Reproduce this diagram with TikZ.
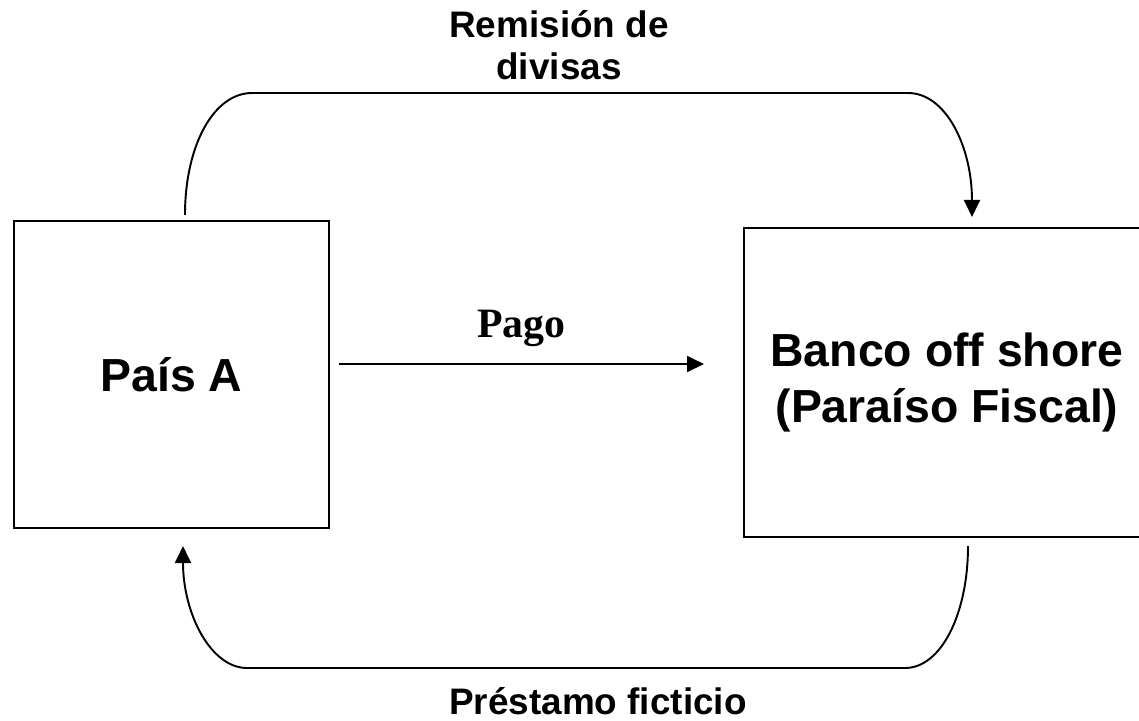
\documentclass[tikz,border=0pt]{standalone}
\usepackage{fontspec}
\setmainfont{Liberation Sans}
\newfontfamily\serifbold{Liberation Serif}
\usetikzlibrary{positioning,arrows.meta}

\begin{document}
\begin{tikzpicture}[x=0.02cm,y=-0.02cm]

              % Definitions
              \tikzstyle{Pais} = [rectangle, minimum width=6.3cm, minimum height=6.14cm, text centered, align=center, draw=black, line width=1.2pt, font=\bfseries\fontsize{26.4}{32.3}\selectfont]
              \tikzstyle{Flujo} = [align=center, inner sep=0pt, font=\bfseries\fontsize{21}{23.8}\selectfont]
              \tikzstyle{arrow} = [line width=1.1pt,-{Triangle[length=0.34cm,width=0.32cm]}]

              \useasboundingbox (0,0) rectangle (1139,720);
              \clip (0,0) rectangle (1139,720);

              \node (PaisA) [Pais] at (171.5,374.5) {País A};
              \node (Banco) [Pais, minimum width=8.12cm, minimum height=6.18cm] at (947,382.5) {Banco off shore\\(Paraíso Fiscal)};

              \coordinate (PagoFin) at ([xshift=-0.78cm,yshift=0.37cm]Banco.west);
              \coordinate (RemIzq) at (252,93);
              \coordinate (RemDer) at (908,93);
              \coordinate (PresDer) at (905,668);
              \coordinate (PresIzq) at (247,668);

              \draw [arrow] ([xshift=0.18cm,yshift=0.21cm]PaisA.east) -- node[above=0.33cm, inner sep=0pt, font=\serifbold\bfseries\fontsize{23.8}{28}\selectfont] (Pago) {Pago} (PagoFin);
              \draw [arrow] ([xshift=0.27cm,yshift=0.1cm]PaisA.north) .. controls +(0,-70) and +(-38,0) .. (RemIzq) -- (RemDer) .. controls +(38,0) and +(0,-70) .. ([xshift=0.5cm,yshift=0.2cm]Banco.north);
              \draw [arrow] ([xshift=0.42cm,yshift=-0.16cm]Banco.south) .. controls +(0,68) and +(36,0) .. (PresDer) -- (PresIzq) .. controls +(-36,0) and +(0,68) .. ([xshift=0.23cm,yshift=-0.34cm]PaisA.south);

              \node (Remision) [Flujo] at (559,45) {Remisión de\\divisas};
              \node (Prestamo) [Flujo] at (598,701) {Préstamo ficticio};

\end{tikzpicture}
\end{document}
